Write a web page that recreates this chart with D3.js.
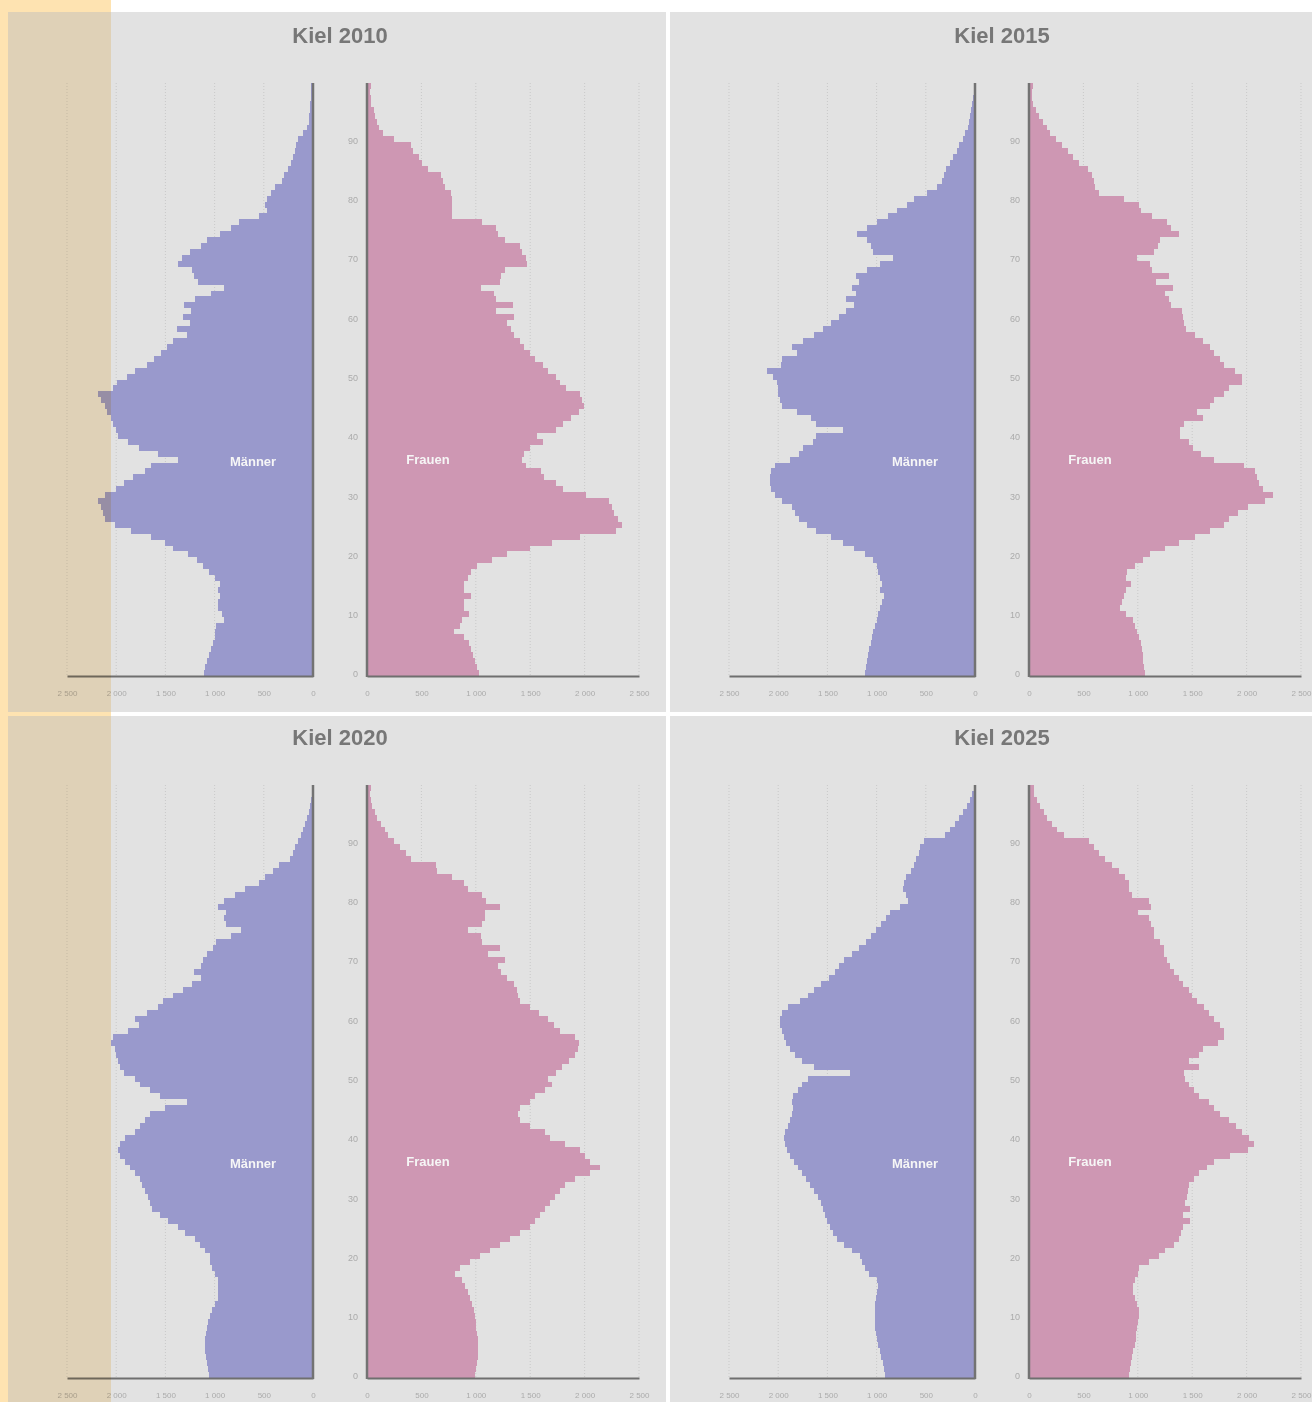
<!DOCTYPE html>
<html><head><meta charset="utf-8">
<script src="https://cdn.jsdelivr.net/npm/d3@7"></script>
<style>
html,body{margin:0;padding:0;background:#fff;}
svg{display:block;}
</style>
</head><body>
<svg id="chart" width="1312" height="1402"></svg>
<script>
const years = ["2010", "2015", "2020", "2025"];
const ageTicks = [0, 10, 20, 30, 40, 50, 60, 70, 80, 90];
const valueTicks = [0, 500, 1000, 1500, 2000, 2500];
const maleLabel = "Männer";
const femaleLabel = "Frauen";

// values by age 0..99
const male2010 = [1105,1100,1080,1060,1040,1020,995,1000,985,905,925,965,965,945,965,945,1000,1060,1115,1175,1270,1425,1500,1650,1845,2015,2110,2130,2150,2190,2110,2000,1920,1825,1710,1650,1375,1575,1765,1880,1980,2000,2035,2055,2090,2110,2150,2190,2035,1995,1890,1805,1690,1615,1545,1480,1425,1280,1385,1250,1320,1240,1310,1195,1040,905,1165,1210,1230,1375,1330,1250,1135,1080,945,830,750,545,465,485,465,430,390,315,290,255,220,200,180,170,150,100,65,45,40,35,30,25,20,25];
const female2010 = [1025,1010,995,975,960,940,890,800,855,870,940,890,890,960,890,890,925,960,1010,1150,1285,1495,1700,1960,2290,2340,2305,2270,2255,2220,2015,1805,1735,1630,1600,1460,1425,1440,1495,1615,1565,1735,1805,1875,1945,1995,1980,1960,1825,1770,1735,1665,1615,1545,1495,1440,1410,1355,1320,1285,1355,1185,1340,1185,1165,1045,1220,1235,1270,1475,1460,1425,1410,1270,1200,1185,1060,785,785,785,785,770,715,700,680,560,510,475,420,405,250,145,110,95,75,60,40,35,25,40];
const male2015 = [1115,1110,1100,1085,1080,1060,1050,1040,1020,1000,985,965,945,925,965,945,965,985,1000,1040,1115,1230,1345,1460,1615,1710,1785,1825,1860,1960,2035,2075,2080,2080,2075,2035,1880,1785,1750,1650,1615,1345,1615,1670,1805,1960,1980,2000,2005,2015,2055,2110,1975,1960,1805,1860,1750,1635,1540,1460,1385,1310,1230,1310,1210,1250,1175,1210,1100,965,830,1040,1060,1100,1195,1100,1000,885,790,695,620,485,390,335,315,295,255,220,180,160,120,100,75,65,55,45,35,25,15,8];
const female2015 = [1070,1060,1050,1045,1035,1025,1010,995,975,960,890,835,855,870,890,940,890,905,975,1045,1115,1250,1375,1530,1665,1790,1840,1925,2015,2170,2240,2150,2115,2100,2080,1980,1700,1580,1510,1475,1390,1390,1425,1600,1545,1665,1700,1790,1840,1960,1960,1890,1790,1755,1700,1665,1600,1530,1440,1425,1420,1410,1305,1285,1250,1320,1165,1285,1130,1115,995,1150,1185,1200,1375,1305,1270,1130,1025,1010,870,645,610,595,580,545,455,405,355,300,250,195,165,130,95,60,40,25,25,40];
const male2020 = [1055,1065,1075,1085,1100,1100,1100,1085,1075,1065,1045,1025,995,965,965,965,965,995,1025,1045,1045,1100,1150,1200,1300,1370,1475,1555,1635,1655,1675,1705,1740,1760,1810,1860,1910,1960,1980,1960,1910,1810,1760,1705,1655,1505,1280,1555,1655,1760,1805,1920,1960,1980,2000,2015,2055,2035,1880,1765,1805,1690,1575,1520,1425,1325,1230,1135,1210,1135,1115,1080,1020,985,830,735,885,905,885,965,905,790,695,545,485,410,350,235,200,180,150,120,100,85,65,45,30,23,15,8];
const female2020 = [990,1000,1010,1020,1020,1020,1020,1010,1000,1000,990,985,965,945,930,900,875,810,855,945,1040,1130,1220,1315,1405,1500,1545,1590,1635,1680,1730,1775,1820,1910,2050,2140,2050,2005,1960,1820,1680,1635,1500,1405,1390,1405,1500,1545,1635,1700,1665,1735,1790,1855,1910,1940,1945,1910,1770,1720,1665,1580,1495,1410,1390,1375,1355,1285,1235,1200,1270,1115,1220,1060,1045,925,1060,1080,1080,1220,1095,1060,925,890,785,645,630,405,355,300,250,195,165,130,95,70,50,35,25,40];
const male2025 = [915,925,940,955,970,985,1000,1010,1015,1015,1015,1015,1015,1010,1000,990,1000,1080,1120,1150,1170,1250,1330,1400,1440,1475,1500,1520,1540,1560,1600,1640,1680,1720,1760,1800,1840,1880,1910,1930,1940,1930,1900,1880,1860,1850,1860,1850,1800,1760,1700,1270,1640,1760,1830,1880,1920,1940,1960,1980,1980,1960,1900,1780,1700,1640,1560,1480,1420,1380,1330,1250,1180,1110,1060,1010,960,900,860,760,680,700,730,720,700,650,620,600,570,560,520,300,250,200,160,120,80,50,30,15];
const female2025 = [920,930,940,950,960,970,980,985,990,1000,1010,1010,990,970,960,960,970,1000,1010,1100,1195,1250,1330,1380,1400,1420,1480,1420,1480,1430,1450,1460,1470,1520,1560,1640,1700,1850,2010,2070,2020,1960,1900,1840,1760,1700,1655,1560,1515,1470,1430,1425,1560,1470,1560,1600,1740,1790,1790,1760,1700,1650,1610,1540,1500,1470,1420,1380,1330,1300,1270,1240,1240,1200,1150,1150,1120,1100,1000,1120,1100,950,920,920,880,830,760,700,640,600,550,320,260,210,170,140,100,70,50,45];

const maleSeries = [male2010, male2015, male2020, male2025];
const femaleSeries = [female2010, female2015, female2020, female2025];

const svg = d3.select("#chart");
const fmt = d3.formatLocale({decimal: ",", thousands: " ", grouping: [3], currency: ["", " €"]}).format(",d");
const FONT = "Liberation Sans, Arial, sans-serif";

// left orange strip (background)
svg.append("rect").attr("x", 0).attr("y", 0).attr("width", 111).attr("height", 1402).attr("fill", "#fee3b1");

const panels = [
  {x: 8, y: 12, w: 658, h: 700, ox: 0, oy: 0},
  {x: 670, y: 12, w: 642, h: 700, ox: 662, oy: 0},
  {x: 8, y: 716, w: 658, h: 686, ox: 0, oy: 702},
  {x: 670, y: 716, w: 642, h: 686, ox: 662, oy: 702}
];

panels.forEach((p, i) => {
  const g = svg.append("g");
  g.append("rect").attr("x", p.x).attr("y", p.y).attr("width", p.w).attr("height", p.h).attr("fill", "#e2e2e2");

  const mZero = 313 + p.ox, fZero = 367 + p.ox;
  const xM = d3.scaleLinear().domain([0, 2500]).range([mZero, mZero - 246]);
  const xF = d3.scaleLinear().domain([0, 2500]).range([fZero, fZero + 272]);
  const y = d3.scaleLinear().domain([0, 100]).range([676 + p.oy, 83 + p.oy]);

  // grid lines
  const grid = g.append("g");
  valueTicks.filter(v => v > 0).forEach(v => {
    grid.append("line").attr("x1", xM(v)).attr("x2", xM(v)).attr("y1", y(100)).attr("y2", y(0))
      .attr("stroke", "#c9c9c9").attr("stroke-width", 1).attr("stroke-dasharray", "1,2");
    grid.append("line").attr("x1", xF(v)).attr("x2", xF(v)).attr("y1", y(100)).attr("y2", y(0))
      .attr("stroke", "#c9c9c9").attr("stroke-width", 1).attr("stroke-dasharray", "1,2");
  });

  const mData = maleSeries[i].map((v, a) => ({a, v}));
  const fData = femaleSeries[i].map((v, a) => ({a, v}));

  g.append("g").attr("shape-rendering", "crispEdges").selectAll("rect").data(mData).join("rect")
    .attr("x", d => xM(d.v)).attr("width", d => xM(0) - xM(d.v))
    .attr("y", d => y(d.a + 1)).attr("height", d => y(d.a) - y(d.a + 1))
    .attr("fill", "#9999cc");
  g.append("g").attr("shape-rendering", "crispEdges").selectAll("rect").data(fData).join("rect")
    .attr("x", xF(0)).attr("width", d => xF(d.v) - xF(0))
    .attr("y", d => y(d.a + 1)).attr("height", d => y(d.a) - y(d.a + 1))
    .attr("fill", "#ce97b3");

  // bottom axes
  const axM = d3.axisBottom(xM).tickValues(valueTicks).tickSize(0).tickPadding(14).tickFormat(fmt);
  const axF = d3.axisBottom(xF).tickValues(valueTicks).tickSize(0).tickPadding(14).tickFormat(fmt);
  [axM, axF].forEach(ax => {
    const a = g.append("g").attr("transform", `translate(0,${y(0)})`).call(ax);
    a.select(".domain").attr("stroke", "#6f6f6f").attr("stroke-width", 2);
    a.selectAll("text").attr("fill", "#ababab").attr("font-size", 8).attr("font-family", FONT);
  });

  // vertical axis lines
  g.append("line").attr("x1", mZero).attr("x2", mZero).attr("y1", y(100)).attr("y2", y(0) + 1)
    .attr("stroke", "#737373").attr("stroke-width", 2.5);
  g.append("line").attr("x1", fZero).attr("x2", fZero).attr("y1", y(100)).attr("y2", y(0) + 1)
    .attr("stroke", "#737373").attr("stroke-width", 2.5);

  // age labels
  const axA = d3.axisLeft(y).tickValues(ageTicks).tickSize(0).tickPadding(0);
  const aa = g.append("g").attr("transform", `translate(${fZero - 9},0)`).call(axA);
  aa.select(".domain").remove();
  aa.selectAll("text").attr("text-anchor", "end").attr("x", 0).attr("dy", "0.1em")
    .attr("fill", "#ababab").attr("font-size", 9).attr("font-family", FONT);

  // title
  g.append("text").attr("x", (mZero + fZero) / 2).attr("y", 43 + p.oy)
    .attr("text-anchor", "middle").attr("font-family", FONT)
    .attr("font-weight", "bold").attr("font-size", 22).attr("fill", "#777")
    .text("Kiel " + years[i]);

  g.append("text").attr("x", mZero - 60).attr("y", 466 + p.oy).attr("text-anchor", "middle")
    .attr("font-family", FONT).attr("font-weight", "bold")
    .attr("font-size", 13).attr("fill", "#f6f6f6").text(maleLabel);
  g.append("text").attr("x", fZero + 61).attr("y", 464 + p.oy).attr("text-anchor", "middle")
    .attr("font-family", FONT).attr("font-weight", "bold")
    .attr("font-size", 13).attr("fill", "#f6f6f6").text(femaleLabel);
});

// translucent overlay on the left part of the left panels
[[12, 700], [716, 686]].forEach(([yy, hh]) => {
  svg.append("rect").attr("x", 8).attr("y", yy).attr("width", 103).attr("height", hh)
    .attr("fill", "rgb(252,236,207)").style("mix-blend-mode", "multiply");
});
</script>
</body></html>
